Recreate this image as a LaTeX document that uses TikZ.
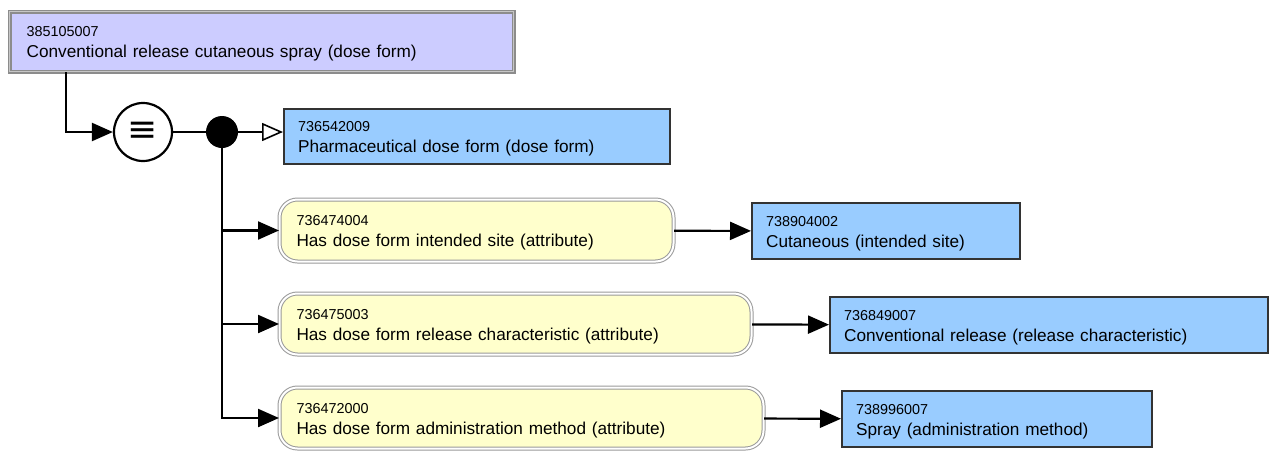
\documentclass[tikz,border=0pt]{standalone}
\usepackage{fontspec}
\setmainfont{Liberation Sans}
\newfontfamily\symfont{DejaVu Sans}
\usepackage{xcolor}
\usetikzlibrary{arrows.meta}
\definecolor{defpurple}{RGB}{204,204,255}
\definecolor{conblue}{RGB}{153,204,255}
\definecolor{attryellow}{RGB}{255,255,204}
\newcommand{\sctid}[1]{{\fontsize{14.4}{21}\selectfont\rule{0pt}{15pt}#1}\\}

\begin{document}
\begin{tikzpicture}[
  x=1pt, y=-1pt,
  every node/.style={font=\fontsize{17.2}{21}\selectfont},
  defbox/.style={
    draw=gray!90, double=gray!45, double distance=1.6pt, line width=1.3pt,
    fill=defpurple, anchor=north west, align=left,
    inner xsep=17pt, text width=#1
  },
  conbox/.style={
    draw=black!80, line width=2.2pt, fill=conblue,
    anchor=north west, align=left, inner xsep=14pt, text width=#1
  },
  attrbox/.style={
    draw=gray!80, double=white, double distance=2pt, line width=1pt,
    fill=attryellow, rounded corners=18pt, anchor=north west,
    align=left, inner xsep=17pt, text width=#1
  },
  equivnode/.style={
    circle, draw, fill=white, line width=2.2pt,
    minimum size=58pt, inner sep=0pt, font=\fontsize{36}{36}\symfont
  },
  link/.style={line width=2.2pt, -{Triangle[length=21pt,width=18pt]}},
  isa/.style={line width=2.2pt, -{Triangle[open,length=21pt,width=18pt,fill=white,line width=1.6pt]}}
]
  \useasboundingbox (0,0) rectangle (1280,464);

  % defined concept
  \node[defbox=470pt, minimum width=504pt, minimum height=60pt] (top) at (9,11)
    {\sctid{385105007}Conventional release cutaneous spray (dose form)};

  \node[equivnode] (eq) at (143,132) {≡};
  \node[circle, fill=black, minimum size=32pt, inner sep=0pt] (grp) at (222,132) {};

  % parent
  \node[conbox=358pt, minimum width=386pt, minimum height=55pt] (pdf) at (283,108)
    {\sctid{736542009}Pharmaceutical dose form (dose form)};

  % attributes
  \node[attrbox=360pt, minimum width=394pt, minimum height=62pt] (attr1) at (279,199)
    {\sctid{736474004}Has dose form intended site (attribute)};
  \node[attrbox=438pt, minimum width=472pt, minimum height=61pt] (attr2) at (279,293)
    {\sctid{736475003}Has dose form release characteristic (attribute)};
  \node[attrbox=450pt, minimum width=484pt, minimum height=61pt] (attr3) at (279,387)
    {\sctid{736472000}Has dose form administration method (attribute)};

  % values
  \node[conbox=240pt, minimum width=268pt, minimum height=56pt] (val1) at (751,202)
    {\sctid{738904002}Cutaneous (intended site)};
  \node[conbox=410pt, minimum width=438pt, minimum height=56pt] (val2) at (829,296)
    {\sctid{736849007}Conventional release (release characteristic)};
  \node[conbox=282pt, minimum width=310pt, minimum height=56pt] (val3) at (841,390)
    {\sctid{738996007}Spray (administration method)};

  \draw[link] ([xshift=57pt]top.south west) |- (eq);
  \draw[line width=2.2pt] (eq) -- (grp);
  \draw[isa] (grp) -- (grp -| pdf.west);
  \draw[link] (grp) |- (attr3);
  \draw[link] (grp |- attr1) -- (attr1);
  \draw[link] (grp |- attr2) -- (attr2);
  \foreach \a/\v in {attr1/val1, attr2/val2, attr3/val3} {
    \draw[link] (\a) -- (\v);
  }
\end{tikzpicture}
\end{document}
